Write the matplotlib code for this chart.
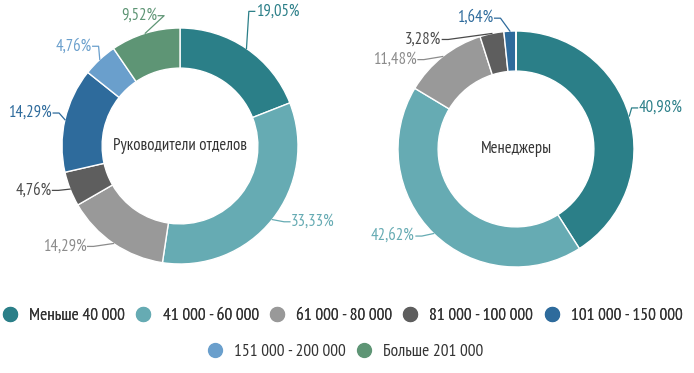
import numpy as np
import matplotlib
matplotlib.use("Agg")
import matplotlib.pyplot as plt
from matplotlib.lines import Line2D

plt.rcParams["font.family"] = ["PT Sans Narrow", "DejaVu Sans"]

categories = ["Меньше 40 000", "41 000 - 60 000", "61 000 - 80 000", "81 000 - 100 000",
              "101 000 - 150 000", "151 000 - 200 000", "Больше 201 000"]
heads = [19.05, 33.33, 14.29, 4.76, 14.29, 4.76, 9.52]
managers = [40.98, 42.62, 11.48, 3.28, 1.64, 0.0, 0.0]
titles = ["Руководители отделов", "Менеджеры"]

colors = ["#2b7f88", "#66abb3", "#999999", "#5e5e5e", "#2e6b9c", "#6a9fcc", "#5e9575"]
label_colors = ["#2b7f88", "#66abb3", "#8c8c8c", "#4a4a4a", "#2e6b9c", "#6a9fcc", "#5e9575"]

W, H = 694, 373
fig = plt.figure(figsize=(W / 100, H / 100), dpi=100)

# label nudges (dx, dy in radius units, optional side) for crowded slices
nudges = [
    {0: (-0.08, 0.29), 2: (-0.07, 0.0), 4: (0.05, 0.05), 5: (0.09, 0.09), 6: (0.26, 0.12)},
    {0: (-0.08, 0.06), 2: (-0.06, -0.05), 3: (-0.27, -0.08), 4: (0.02, 0.08, -1)},
]


def draw_donut(cx, cy, values, title, nudge):
    r = 118
    ax = fig.add_axes([(cx - r) / W, (H - cy - r) / H, 2 * r / W, 2 * r / H])
    ax.pie(values, colors=colors, startangle=90, counterclock=False, radius=1.0,
           wedgeprops=dict(width=0.34, edgecolor="white", linewidth=1.0))
    ax.set_xlim(-1, 1)
    ax.set_ylim(-1, 1)
    ax.set_aspect("equal")
    ax.axis("off")
    ax.text(0, 0, title, ha="center", va="center", fontsize=12, color="#333333")
    total = sum(values)
    start = 90.0
    for i, v in enumerate(values):
        if v <= 0:
            continue
        span = v / total * 360
        mid = np.deg2rad(start - span / 2)
        start -= span
        c, s = np.cos(mid), np.sin(mid)
        nd = nudge.get(i, (0.0, 0.0))
        side = nd[2] if len(nd) > 2 else (1 if c >= 0 else -1)
        tx, ty = c + side * 0.16 + nd[0], s * 1.03 + nd[1]
        ax.plot([c, tx - side * 0.06, tx - side * 0.01], [s, ty, ty],
                color=label_colors[i], lw=0.9, clip_on=False)
        ax.text(tx, ty, f"{v:.2f}%".replace(".", ","),
                ha="left" if side > 0 else "right", va="center", fontsize=12,
                color=label_colors[i])


draw_donut(180, 146, heads, titles[0], nudges[0])
draw_donut(516, 149, managers, titles[1], nudges[1])

handles = [Line2D([], [], marker="o", linestyle="", markersize=10, color=c) for c in colors]
leg_kw = dict(loc="center", frameon=False, fontsize=12.5, handletextpad=0.6,
              columnspacing=0.55, handlelength=1.0, labelcolor="#333333")
leg1 = fig.legend(handles[:5], categories[:5], bbox_to_anchor=(342 / W, 1 - 316 / H), ncol=5, **leg_kw)
fig.add_artist(leg1)
fig.legend(handles[5:], categories[5:], bbox_to_anchor=(345 / W, 1 - 352 / H), ncol=2, **leg_kw)

fig.savefig("out.png", dpi=100, facecolor="white")
